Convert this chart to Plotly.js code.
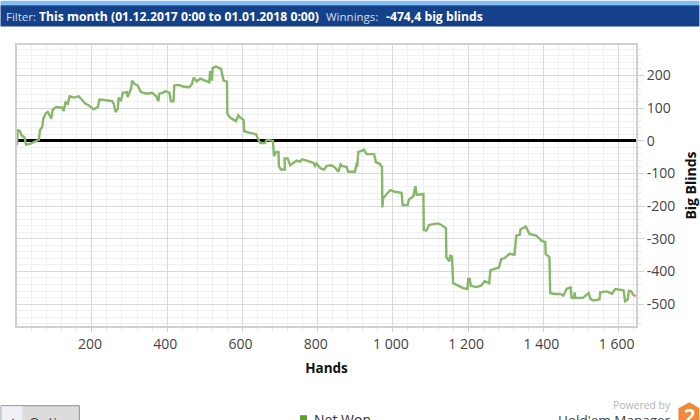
<!DOCTYPE html>
<html>
<head>
<meta charset="utf-8">
<script src="https://cdn.plot.ly/plotly-3.0.1.min.js"></script>
<style>html,body{margin:0;padding:0;background:#fff;overflow:hidden}#chart{width:700px;height:420px}</style>
</head>
<body>
<div id="chart"></div>
<script>
var hands = [1,3,9,13,21,25,37,53,59,62,68,71,77,83,92,96,105,121,125,130,136,141,152,165,174,183,192,205,216,220,231,254,258,263,269,271,277,282,293,295,304,307,313,322,330,346,360,371,377,379,390,395,406,410,417,419,430,442,459,466,470,479,488,501,512,514,519,521,530,543,550,559,560,567,583,589,594,603,605,620,636,647,660,665,681,684,690,696,697,702,713,712,720,727,736,744,753,759,771,789,793,797,808,817,824,837,846,855,861,866,877,881,899,904,905,908,917,923,930,950,955,964,971,972,974,993,1005,1023,1026,1039,1043,1054,1060,1063,1081,1082,1089,1096,1107,1120,1129,1141,1142,1150,1152,1157,1160,1173,1187,1198,1200,1204,1207,1222,1235,1244,1256,1259,1271,1282,1288,1297,1310,1323,1328,1337,1339,1353,1363,1381,1394,1405,1406,1416,1418,1429,1445,1453,1462,1472,1475,1481,1483,1485,1505,1520,1525,1533,1549,1551,1568,1582,1591,1598,1613,1617,1624,1627,1633,1640];
var netWon = [-14,32,30,17,10,-12,-9,-2,3,32,42,68,83,88,68,95,103,101,91,118,113,136,132,136,125,113,108,96,103,126,125,121,113,88,98,132,121,147,149,134,159,184,174,169,149,144,147,136,121,144,147,152,147,121,121,169,171,166,164,174,193,182,190,184,179,213,184,223,227,220,184,181,83,71,60,78,71,64,29,24,20,-7,-7,3,0,-47,-34,-34,-78,-88,-88,-54,-54,-75,-68,-61,-64,-57,-61,-68,-77,-70,-85,-88,-77,-75,-82,-95,-72,-78,-80,-95,-95,-67,-80,-34,-31,-27,-41,-41,-66,-70,-80,-204,-176,-151,-156,-159,-197,-197,-179,-171,-139,-166,-163,-273,-275,-258,-255,-253,-258,-268,-356,-369,-352,-354,-436,-443,-451,-454,-423,-423,-444,-448,-443,-430,-436,-397,-392,-388,-362,-359,-346,-349,-290,-288,-271,-263,-285,-290,-305,-311,-347,-356,-466,-469,-469,-474,-453,-449,-481,-481,-464,-481,-481,-466,-484,-489,-486,-464,-461,-468,-454,-456,-458,-491,-486,-459,-461,-474];
var endHands = [1640,1646];
var endWon = [-474,-474.4];
var xTicks = [200,400,600,800,1000,1200,1400,1600];
var xLabels = ['200','400','600','800','1 000','1 200','1 400','1 600'];
var yTicks = [200,100,0,-100,-200,-300,-400,-500];
var yLabels = ['200','100','0','-100','-200','-300','-400','-500'];
var FONT = '"Open Sans", "Noto Sans", sans-serif';
var L=16.5,R=636.5,T=44.5,B=326.5;
function px(x){return (x-L)/(R-L);}
function py(y){return (B-y)/(B-T);}
function rect(x0,y0,x1,y1,fill,line){return {type:'rect',xref:'paper',yref:'paper',x0:px(x0),x1:px(x1),y0:py(y1),y1:py(y0),fillcolor:fill,line:{width:line?1:0,color:line||fill},layer:'below'};}
function label(x,y,text,size,color,anchor){return {xref:'paper',yref:'paper',x:px(x),y:py(y),text:text,showarrow:false,xanchor:anchor||'left',yanchor:'middle',font:{family:FONT,size:size,color:color},borderpad:0};}
var hex='M '+[[690,403],[700,409],[700,425],[679,425],[679,409]].map(function(p){return px(p[0])+','+py(p[1]);}).join(' L ')+' Z';
var layout={
  width:700,height:420,paper_bgcolor:'#fff',plot_bgcolor:'#fff',showlegend:false,
  margin:{l:L,r:700-R,t:T,b:420-B,pad:0},
  xaxis:{range:[1,1646],tickmode:'array',tickvals:xTicks,ticktext:xLabels,ticklabelshift:-2,showgrid:true,gridcolor:'#d9d9d9',gridwidth:1,
    zeroline:false,showline:true,mirror:true,linecolor:'#d0d0d0',linewidth:2,ticks:'outside',ticklen:4,tickcolor:'#d0d0d0',
    tickfont:{family:FONT,size:14,color:'#444'},
    title:{text:'<b>Hands</b>',font:{family:FONT,size:13.5,color:'#111'},standoff:12},
    minor:{dtick:40,tick0:0,showgrid:true,gridcolor:'#f0f0f0',gridwidth:1,ticks:'outside',ticklen:3,tickcolor:'#e4e4e4'}},
  yaxis:{side:'right',range:[-567,293],tickmode:'array',tickvals:yTicks,ticktext:yLabels,showgrid:true,gridcolor:'#d9d9d9',gridwidth:1,
    zeroline:true,zerolinecolor:'#000',zerolinewidth:2.6,showline:true,mirror:true,linecolor:'#d0d0d0',linewidth:2,ticks:'outside',ticklen:6,tickcolor:'#d0d0d0',
    tickfont:{family:FONT,size:14,color:'#444'},
    title:{text:'<b>Big Blinds</b>',font:{family:FONT,size:14,color:'#111'},standoff:12},
    minor:{dtick:20,tick0:0,showgrid:true,gridcolor:'#f0f0f0',gridwidth:1,ticks:'outside',ticklen:3,tickcolor:'#e4e4e4'}},
  shapes:[
    rect(0,0,700,4.5,'#82bdf5'),
    rect(0,4.5,700,26,'#15418a'),
    rect(0.5,406.5,79,425,'#dcdcdc','#8f8f8f'),
    rect(1,407,22,425,'#eef0f6'),
    rect(300,416,307,423,'#5f9e2e'),
    {type:'path',xref:'paper',yref:'paper',path:hex,fillcolor:'#ef8a3c',line:{width:0},layer:'above'}
  ],
  annotations:[
    label(4,16,'Filter:',11.5,'#d5deee'),
    label(38,16,'<b>This month (01.12.2017 0:00 to 01.01.2018 0:00)</b>',12.2,'#fff'),
    label(325,16,'Winnings:',11.5,'#d5deee'),
    label(385,16,'<b>-474,4 big blinds</b>',12.2,'#fff'),
    label(28,423,'Options',14,'#333'),
    label(12,420,'\u25B2',8,'#333','center'),
    label(312.5,420,'Net Won',14,'#333'),
    label(673,406,'Powered by',10.4,'#b5b5b5','right'),
    label(673,421,"Hold'em Manager",13.5,'#444','right'),
    label(690,416,'<b>2</b>',20,'#fff','center')
  ]
};
var traces=[
  {type:'scatter',mode:'lines',name:'Net Won',x:hands,y:netWon,line:{color:'#87b768',width:2.4},hoverinfo:'skip'},
  {type:'scatter',mode:'lines',name:'Current',x:endHands,y:endWon,line:{color:'#f07a6a',width:2},hoverinfo:'skip'}
];
Plotly.newPlot('chart',traces,layout,{displayModeBar:false,staticPlot:true});
</script>
</body>
</html>
